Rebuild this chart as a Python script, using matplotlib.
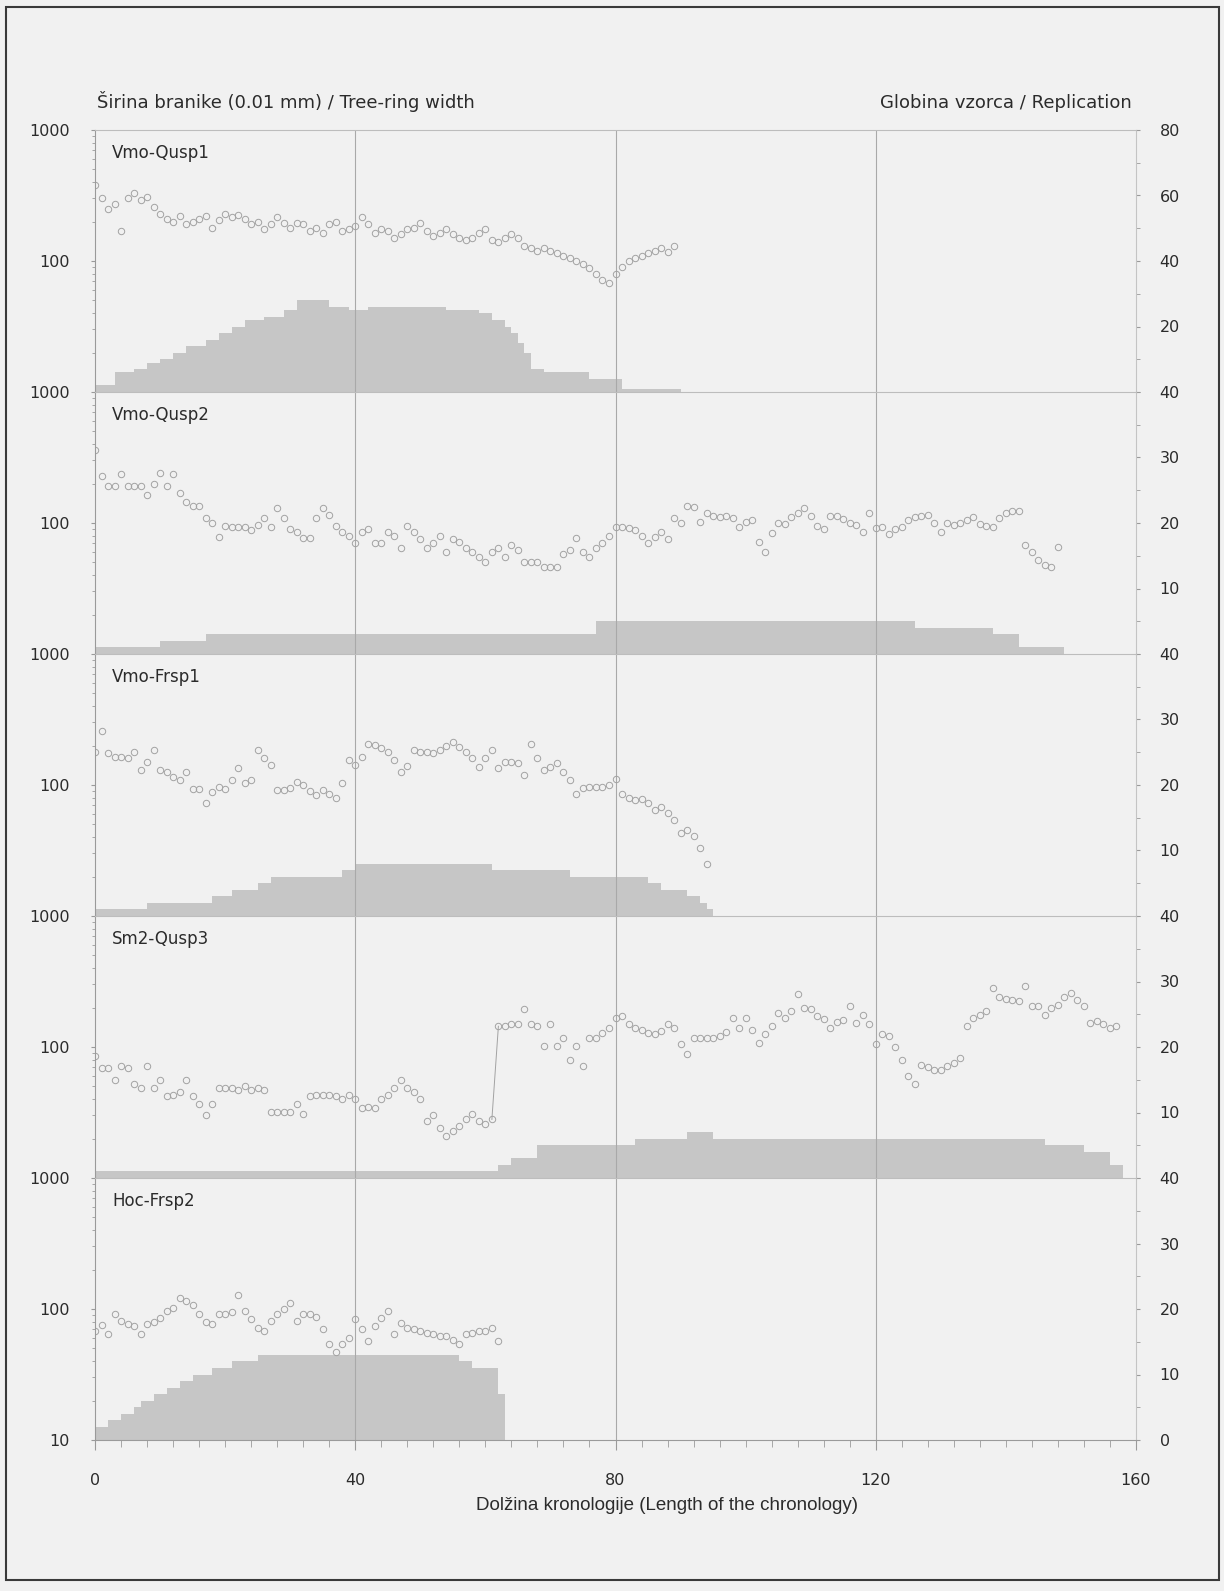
import matplotlib.pyplot as plt
import numpy as np
from matplotlib.patches import Rectangle
from matplotlib.ticker import FixedLocator, MultipleLocator, NullFormatter

W, H = 1224, 1591
BG = "#f1f1f1"
FILL = "#c6c6c6"
MARK = "#a2a2a2"
AXC = "#9a9a9a"
TXT = "#2b2b2b"

names = ["Vmo-Qusp1", "Vmo-Qusp2", "Vmo-Frsp1", "Sm2-Qusp3", "Hoc-Frsp2"]

# tree-ring width (0.01 mm), one value per year of the chronology
w_qusp1 = [380, 300, 250, 270, 170, 300, 330, 290, 310, 260,
           230, 210, 200, 220, 190, 200, 210, 220, 180, 205,
           230, 215, 225, 210, 190, 200, 175, 190, 215, 195,
           180, 195, 190, 170, 180, 165, 190, 200, 170, 175,
           185, 215, 190, 165, 175, 170, 150, 160, 175, 180,
           195, 170, 155, 165, 175, 160, 150, 145, 150, 165,
           175, 145, 140, 150, 160, 150, 130, 125, 120, 125,
           120, 115, 110, 105, 100, 95, 88, 80, 72, 68,
           80, 90, 100, 105, 110, 115, 120, 125, 118, 130]

w_qusp2 = [360, 230, 190, 190, 235, 190, 190, 190, 165, 200,
           240, 190, 235, 170, 145, 135, 134, 110, 100, 78,
           95, 94, 94, 94, 88, 97, 110, 94, 130, 110,
           90, 85, 77, 77, 110, 130, 115, 95, 85, 80,
           70, 85, 90, 70, 70, 85, 80, 65, 95, 85,
           75, 65, 70, 80, 60, 75, 72, 65, 60, 55,
           50, 60, 65, 55, 68, 62, 50, 50, 50, 46,
           46, 46, 58, 62, 77, 60, 55, 65, 70, 80,
           94, 94, 92, 88, 80, 70, 78, 85, 75, 110,
           100, 135, 132, 101, 120, 114, 112, 114, 110, 93,
           101, 105, 71, 60, 84, 100, 98, 112, 120, 130,
           114, 95, 90, 114, 114, 108, 100, 96, 85, 120,
           92, 93, 82, 90, 93, 105, 112, 114, 116, 100,
           85, 100, 96, 100, 105, 112, 98, 95, 93, 110,
           120, 124, 124, 68, 60, 52, 48, 46, 66]

w_frsp1 = [180, 260, 175, 165, 165, 160, 180, 130, 150, 185,
           130, 126, 115, 109, 126, 94, 94, 73, 88, 97,
           94, 110, 134, 103, 110, 184, 160, 142, 91, 91,
           95, 106, 100, 90, 84, 91, 85, 79, 103, 155,
           142, 165, 207, 201, 190, 179, 155, 126, 140, 184,
           180, 179, 174, 184, 200, 213, 195, 179, 160, 138,
           160, 184, 134, 150, 150, 146, 119, 207, 160, 130,
           138, 146, 126, 110, 86, 95, 97, 97, 97, 100,
           112, 86, 80, 77, 78, 73, 65, 68, 61, 54,
           43, 45, 41, 33, 25]

w_qusp3 = [85, 69, 69, 56, 71, 69, 52, 49, 71, 49,
           56, 42, 43, 45, 56, 42, 37, 30, 37, 49,
           49, 49, 47, 50, 47, 49, 47, 32, 32, 32,
           32, 37, 31, 42, 43, 43, 43, 42, 40, 43,
           40, 34, 35, 34, 40, 43, 49, 56, 49, 45,
           40, 27, 30, 24, 21, 23, 25, 28, 31, 27,
           26, 28, 144, 144, 149, 149, 194, 149, 144, 101,
           149, 101, 118, 80, 101, 71, 118, 118, 128, 140,
           167, 172, 150, 140, 135, 128, 125, 132, 149, 140,
           105, 88, 118, 118, 118, 118, 121, 130, 167, 140,
           167, 136, 108, 125, 144, 183, 167, 188, 252, 200,
           194, 172, 165, 140, 155, 162, 205, 153, 177, 150,
           105, 125, 121, 100, 80, 60, 52, 73, 70, 67,
           67, 72, 76, 83, 144, 167, 175, 188, 283, 240,
           231, 230, 224, 292, 205, 205, 177, 200, 211, 240,
           259, 230, 205, 153, 158, 150, 140, 144]

w_frsp2 = [68, 75, 64, 91, 81, 77, 74, 64, 77, 80,
           86, 97, 102, 122, 115, 108, 91, 80, 77, 91,
           91, 95, 129, 97, 84, 72, 68, 81, 91, 100,
           112, 81, 91, 91, 87, 70, 54, 47, 54, 60,
           84, 70, 57, 74, 85, 97, 64, 78, 72, 70,
           68, 66, 64, 62, 62, 58, 54, 64, 66, 68,
           68, 72, 57]

# replication (number of samples): step edges and counts
rep_qusp1_x = [0, 3, 6, 8, 10, 12, 14, 17, 19, 21, 23, 26, 29, 31, 36, 39,
               42, 54, 59, 61, 63, 64, 65, 66, 67, 69, 76, 81, 90]
rep_qusp1_n = [2, 6, 7, 9, 10, 12, 14, 16, 18, 20, 22, 23, 25, 28, 26, 25,
               26, 25, 24, 22, 20, 18, 15, 12, 7, 6, 4, 1]
rep_qusp2_x = [0, 10, 17, 77, 126, 138, 142, 149]
rep_qusp2_n = [1, 2, 3, 5, 4, 3, 1]
rep_frsp1_x = [0, 8, 18, 21, 25, 27, 38, 40, 61, 73, 85, 87, 91, 93, 94, 95]
rep_frsp1_n = [1, 2, 3, 4, 5, 6, 7, 8, 7, 6, 5, 4, 3, 2, 1]
rep_qusp3_x = [0, 62, 64, 68, 83, 91, 95, 146, 152, 156, 158]
rep_qusp3_n = [1, 2, 3, 5, 6, 7, 6, 5, 4, 2]
rep_frsp2_x = [0, 2, 4, 6, 7, 9, 11, 13, 15, 18, 21, 25, 56, 58, 62, 63]
rep_frsp2_n = [2, 3, 4, 5, 6, 7, 8, 9, 10, 11, 12, 13, 12, 11, 7]

widths = [w_qusp1, w_qusp2, w_frsp1, w_qusp3, w_frsp2]
rep_x = [rep_qusp1_x, rep_qusp2_x, rep_frsp1_x, rep_qusp3_x, rep_frsp2_x]
rep_n = [rep_qusp1_n, rep_qusp2_n, rep_frsp1_n, rep_qusp3_n, rep_frsp2_n]
rep_max = [80, 40, 40, 40, 40]

fig = plt.figure(figsize=(W / 100, H / 100), dpi=100, facecolor=BG)

left, right = 95 / W, 1136 / W
top_px, h_px = 130, 262

for i in range(5):
    y0 = 1 - (top_px + h_px * (i + 1)) / H
    ax = fig.add_axes([left, y0, right - left, h_px / H])
    ax2 = ax.twinx()
    ax.set_zorder(ax2.get_zorder() + 1)
    ax.patch.set_visible(False)
    ax2.patch.set_visible(False)

    # replication as grey steps on the right axis
    ex = np.array(rep_x[i], dtype=float)
    cn = np.array(rep_n[i], dtype=float)
    ax2.fill_between(ex, np.append(cn, cn[-1]), step="post", color=FILL, lw=0)
    ax2.set_ylim(0, rep_max[i])

    # tree-ring widths on log left axis
    w = np.array(widths[i], dtype=float)
    yrs = np.arange(len(w))
    ax.set_yscale("log")
    ax.set_ylim(10, 1000)
    ax.set_xlim(0, 160)
    ax.plot(yrs, w, ls="none", marker="o", ms=4.6, mfc="none", mec=MARK, mew=0.7)
    if i == 3:
        ax.plot(yrs[61:63], w[61:63], color=MARK, lw=0.7)

    for gx in (40, 80, 120):
        ax.axvline(gx, color="#a9a9a9", lw=0.8, zorder=0.5)

    ax.text(17 / 1041, 0.893, names[i], transform=ax.transAxes,
            fontsize=12, color=TXT, va="baseline", ha="left")

    # left axis
    lv = [10, 100, 1000] if i == 4 else [100, 1000]
    ax.yaxis.set_major_locator(FixedLocator(lv))
    ax.set_yticklabels([str(v) for v in lv])
    ax.yaxis.set_minor_formatter(NullFormatter())
    ax.tick_params(axis="y", which="both", direction="out", color=AXC,
                   labelsize=11.5, labelcolor=TXT, pad=15)
    ax.tick_params(axis="y", which="major", length=3)
    ax.tick_params(axis="y", which="minor", length=2)

    # right axis
    if i == 0:
        rv = [20, 40, 60, 80]
        ax2.yaxis.set_minor_locator(MultipleLocator(10))
    else:
        rv = [0, 10, 20, 30, 40] if i == 4 else [10, 20, 30, 40]
        ax2.yaxis.set_minor_locator(MultipleLocator(5))
    ax2.yaxis.set_major_locator(FixedLocator(rv))
    ax2.set_yticklabels([str(v) for v in rv])
    ax2.tick_params(axis="y", which="both", direction="out", color=AXC,
                    labelsize=11.5, labelcolor=TXT, pad=14, length=3)

    # x axis
    ax.xaxis.set_major_locator(MultipleLocator(40))
    ax.xaxis.set_minor_locator(MultipleLocator(4))
    if i == 4:
        ax.tick_params(axis="x", which="both", direction="out", color=AXC,
                       labelsize=11.5, labelcolor=TXT)
        ax.tick_params(axis="x", which="major", length=7, pad=17)
        ax.tick_params(axis="x", which="minor", length=5)
    else:
        ax.tick_params(axis="x", which="both", bottom=False, labelbottom=False)
    ax2.tick_params(axis="x", which="both", bottom=False, labelbottom=False)

    for s in ("top", "bottom", "left", "right"):
        ax2.spines[s].set_visible(False)
    ax.spines["right"].set_visible(False)
    ax2.spines["right"].set_visible(True)
    ax2.spines["right"].set_color("#c4c4c4")
    ax.spines["left"].set_color(AXC)
    ax.spines["top"].set_color("#bdbdbd")
    ax.spines["bottom"].set_visible(i == 4)
    ax.spines["bottom"].set_color(AXC)

fig.text(97 / W, 1 - 108 / H, "Širina branike (0.01 mm) / Tree-ring width",
         fontsize=13, color=TXT, va="baseline", ha="left")
fig.text(1132 / W, 1 - 108 / H, "Globina vzorca / Replication",
         fontsize=13, color=TXT, va="baseline", ha="right")
fig.text(667 / W, 1 - 1505 / H, "Dolžina kronologije (Length of the chronology)",
         fontsize=13.5, family="Liberation Sans", color=TXT, va="center", ha="center")

# page frame
fig.patches.append(Rectangle((6 / W, 1 - 1580 / H), 1213 / W, 1573 / H,
                             transform=fig.transFigure, fill=False,
                             edgecolor="#3a3a3a", lw=1.5))

fig.savefig("out.png", dpi=100, facecolor=BG)
